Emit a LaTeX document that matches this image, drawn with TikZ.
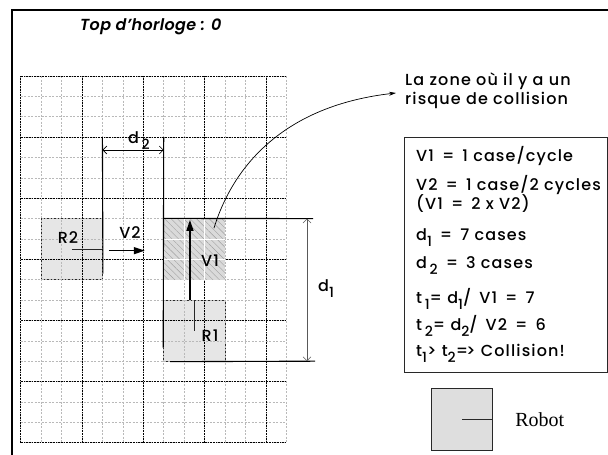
\documentclass[tikz,border=0pt]{standalone}
\usepackage{fontspec}
\setmainfont{Poppins}[UprightFont=* Medium,ItalicFont=* SemiBold Italic,LetterSpace=7]
\newfontfamily\robotfont{Liberation Serif}
\usetikzlibrary{arrows.meta,positioning,patterns.meta}
\definecolor{robotgray}{RGB}{222,222,222}
\definecolor{zonegray}{RGB}{218,218,218}
\definecolor{edge}{RGB}{40,40,40}
\newcommand{\idx}[1]{\raisebox{-6pt}{\fontsize{14}{14}\selectfont#1}}
\newcommand{\eq}{\hspace{8pt}=\hspace{8pt}}

\begin{document}
\begin{tikzpicture}[x=1pt,y=-1pt,font=\fontsize{16}{18}\selectfont,minor/.style={gray!55,line width=.5pt,dash pattern=on 2pt off 1.5pt},major/.style={black,line width=.6pt,densely dotted},robot/.style={draw=edge,fill=robotgray,fill opacity=.75,line width=1pt,minimum width=61.3pt,minimum height=61.1pt,inner sep=0pt},ext/.style={black,line width=1.1pt},dim/.style={{Straight Barb[length=4pt]}-{Straight Barb[length=4pt]},line width=.6pt},speed/.style={-{Triangle[length=11pt,width=7pt]},line width=1.4pt},txt/.style={inner sep=0pt,anchor=base west}]
\useasboundingbox (0,0) rectangle (608,455);
\draw[line width=2.2pt] (12.3,456) -- (12.3,10) -- (609,10);
\node[txt,font=\fontsize{16}{18}\selectfont\itshape\addfontfeatures{LetterSpace=2}] (title) at (80,30) {Top d'horloge : 0};
\node[robot] (R2) at (71.78,249.15) {};
\node[robot] (R1) at (194.36,330.6) {};
\foreach \i in {0,...,13} \draw[minor] (20.7+20.43*\i,76) -- (20.7+20.43*\i,442.66);
\foreach \j in {0,...,18} \draw[minor] (20.7,76+20.37*\j) -- (286.29,76+20.37*\j);
\foreach \i in {0,3,...,12} \draw[major] (20.7+20.43*\i,76) -- (20.7+20.43*\i,442.66);
\foreach \j in {0,3,...,18} \draw[major] (20.7,76+20.37*\j) -- (286.29,76+20.37*\j);
\node[fill=zonegray,minimum width=61.3pt,minimum height=61.1pt,inner sep=0pt] (zone) at (194.36,249.15) {};
\fill[pattern={Lines[angle=-45,distance=4.5pt,line width=.4pt]},pattern color=gray!75] (zone.south west) rectangle (zone.north east);
\foreach \k in {1,2} {\draw[white,line width=.8pt] (163.71+20.43*\k,218.59) -- (163.71+20.43*\k,279.7); \draw[white,line width=.8pt] (163.71,218.59+20.37*\k) -- (225,218.59+20.37*\k);}
\draw[edge,line width=.8pt] (R2.center) -- (R2.east); \draw[edge,line width=.8pt] (R1.center) -- (R1.north);
\node (R2lbl) at (68,238) {R2};
\node (R1lbl) at (210,336) {R1};
\node (V2lbl) at (130,233) {V2};
\node (V1lbl) at (210,261) {V1};
\draw[speed] ([xshift=6pt,yshift=-1.5pt]R2.east) -- ([xshift=-18.7pt,yshift=-1.5pt]zone.west);
\draw[speed] ([xshift=-4.4pt]R1.north) -- ([xshift=-4.4pt,yshift=-1.5pt]zone.north);
\coordinate (d2l) at (102.42,137); \coordinate (d2r) at (163.71,137);
\coordinate (d1t) at (313,218.59); \coordinate (d1b) at (315,361.18);
\draw[ext] (d2l) -- ([yshift=6.7pt]R2.south east); \draw[ext] (d2r) -- ([yshift=14pt]R1.south west);
\draw[ext] (zone.north west) -- (d1t); \draw[ext] ([xshift=7pt]R1.south west) -- (d1b);
\draw[dim] ([yshift=-13pt]d2l) -- ([yshift=-13pt]d2r);
\draw[dim,gray!70!black] ([xshift=-6pt]d1t) -- ([xshift=-8pt]d1b);
\node[txt] (d2lbl) at (128,143) {d\,\idx{2}};
\node[txt] (d1lbl) at (318,291) {d\idx{1}};
\node[txt] (zonea) at (405,85) {La zone où il y a un};
\node[txt] (zoneb) at (405,104) {risque de collision};
\coordinate (tip) at (396,93);
\draw[-{Stealth[length=7pt,width=4pt]},line width=.7pt] ([shift={(19.6,-21)}]zone.center) .. controls (235,160) and (290,105) .. (tip);
\node[draw=edge,line width=1pt,minimum width=203pt,minimum height=235.4pt,inner sep=0pt] (infobox) at (505.5,255) {};
\foreach \y/\t [count=\n] in {161.7/{V1\eq1 case/cycle},190/{V2\eq1 case/2 cycles},209.3/{(V1\eq2 x V2)},240/{d\idx{1}\eq7 cases},268.3/{d\,\idx{2}\eq3 cases},303.3/{t\,\idx{1}= d\idx{1}/\enspace V1\eq7},330/{t\,\idx{2}= d\idx{2}/\enspace V2\eq6},356.7/{t\idx{1}> t\idx{2}=\kern-2pt> Collision!}} \node[txt] (info\n) at (416,\y) {\t};
\node[robot,fill opacity=1,minimum width=61pt,minimum height=61.7pt] (legend) at (462.2,419.2) {};
\draw[edge,line width=.8pt] (legend.center) -- (legend.east);
\node[right=22pt of legend,inner sep=0pt,font=\robotfont\fontsize{20}{20}\selectfont] (robotlbl) {Robot};
\end{tikzpicture}
\end{document}
